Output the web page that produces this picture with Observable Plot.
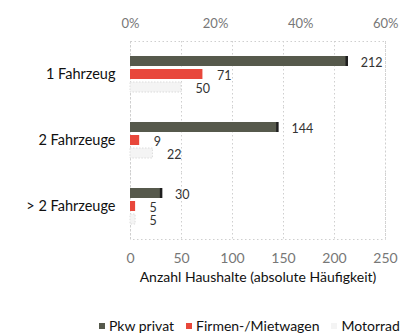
<!DOCTYPE html>
<html>
<head>
<meta charset="utf-8">
<script src="https://cdn.jsdelivr.net/npm/d3@7"></script>
<script src="https://cdn.jsdelivr.net/npm/@observablehq/plot@0.6"></script>
<style>
  html, body { margin: 0; padding: 0; background: #fff; }
  body { width: 419px; height: 336px; overflow: hidden; font-family: Lato, "Open Sans", sans-serif; }
  #legend { margin-left: 99px; margin-top: 13px; width: 320px; }
  #legend > div { flex-wrap: nowrap !important; white-space: nowrap; }
  #legend span { margin-right: 12px !important; }
  #legend svg { margin-right: 4px !important; }
</style>
</head>
<body>
<div id="chart"></div>
<div id="legend"></div>
<script>
// Haushalte nach Anzahl der Fahrzeuge
const groups = ["1 Fahrzeug", "2 Fahrzeuge", "> 2 Fahrzeuge"];
const series = ["Pkw privat", "Firmen-/Mietwagen", "Motorrad"];
const pkwPrivat = [212, 144, 30];
const firmenMietwagen = [71, 9, 5];
const motorrad = [50, 22, 5];
const colors = ["#56594c", "#e8473b", "#f4f4f4"];
const countTicks = [0, 50, 100, 150, 200, 250];
const percentTicks = [0, 20, 40, 60];
const totalHouseholds = 417;

const seriesValues = [pkwPrivat, firmenMietwagen, motorrad];
const data = groups.flatMap((g, i) =>
  series.map((s, j) => ({group: g, series: s, value: seriesValues[j][i]}))
);

const chart = Plot.plot({
  width: 419,
  height: 296,
  marginTop: 40,
  marginBottom: 56,
  marginLeft: 130,
  marginRight: 34,
  style: {fontFamily: "Lato, 'Open Sans', sans-serif", fontSize: "13px", color: "#222", background: "#fff"},
  x: {domain: [0, 250]},
  y: {domain: series, axis: null, paddingInner: 0.2, paddingOuter: 1.1},
  fy: {domain: groups, padding: 0, label: null},
  color: {domain: series, range: colors},
  marks: [
    Plot.gridX(countTicks, {stroke: "#cfcfcf", strokeOpacity: 1, strokeDasharray: "1.5,2.5"}),
    Plot.frame({facet: "super", stroke: "#cfcfcf", strokeDasharray: "1.5,2.5"}),
    Plot.barX(data, {
      x: "value", y: "series", fy: "group", fill: "series",
      stroke: d => d.series === "Motorrad" ? "#dcdcdc" : "none",
      strokeDasharray: "1.5,1.5"
    }),
    Plot.tickX(data.filter(d => d.series === "Pkw privat"), {
      x: "value", y: "series", fy: "group", stroke: "#1e1e1e", strokeWidth: 2.5
    }),
    Plot.text(data, {
      x: "value", y: "series", fy: "group", text: d => String(d.value),
      dx: 14, dy: 1, textAnchor: "start", fill: "#333", fontSize: 12.5
    }),
    Plot.axisFy({anchor: "left", tickSize: 0, tickPadding: 15, fontSize: 14.5, fill: "#111", label: null}),
    Plot.axisX({
      anchor: "top",
      ticks: percentTicks.map(p => p / 100 * totalHouseholds),
      tickFormat: v => Math.round(v / totalHouseholds * 100) + "%",
      tickSize: 0, tickPadding: 14, fill: "#777", fontSize: 13, label: null
    }),
    Plot.axisX({
      anchor: "bottom", ticks: countTicks, tickSize: 0, tickPadding: 14,
      fill: "#777", fontSize: 14, label: null
    }),
    Plot.text(["Anzahl Haushalte (absolute Häufigkeit)"], {
      frameAnchor: "bottom", facet: "super", dy: 42, fontSize: 14, fill: "#111"
    })
  ]
});
document.getElementById("chart").appendChild(chart);

const legend = chart.legend("color", {
  swatchSize: 6,
  style: {fontSize: "14px", fontFamily: "Lato, 'Open Sans', sans-serif", color: "#111"}
});
document.getElementById("legend").appendChild(legend);
</script>
</body>
</html>
